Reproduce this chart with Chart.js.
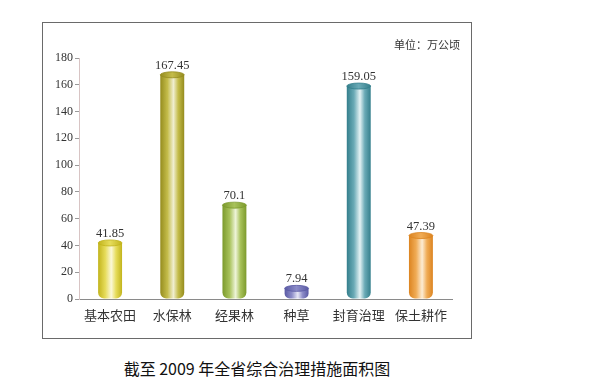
<!DOCTYPE html>
<html>
<head>
<meta charset="utf-8">
<script src="https://cdn.jsdelivr.net/npm/chart.js@4"></script>
<style>
  html, body { margin: 0; padding: 0; background: #fff; }
  body { width: 610px; height: 388px; position: relative; overflow: hidden; }
  #frame {
    position: absolute; left: 42px; top: 22px; width: 428px; height: 315px;
    border: 1px solid #6a6a6a; background: #fff;
  }
  #title {
    position: absolute; left: 42px; width: 430px; top: 356px; text-align: center;
    font-family: "Noto Sans CJK SC", sans-serif; font-size: 16px; color: #111;
  }
</style>
</head>
<body>
<div id="frame"><canvas id="chartMeasures" width="428" height="315"></canvas></div>
<div id="title">截至 2009 年全省综合治理措施面积图</div>
<script>
const categories = ['基本农田', '水保林', '经果林', '种草', '封育治理', '保土耕作'];
const areaValues = [41.85, 167.45, 70.1, 7.94, 159.05, 47.39];
const valueLabels = ['41.85', '167.45', '70.1', '7.94', '159.05', '47.39'];
const yTicks = [0, 20, 40, 60, 80, 100, 120, 140, 160, 180];
const unitText = '单位：万公顷';

// edge / middle / highlight colours per bar
const barColors = [
  ['#c2b41c', '#e6dc5a', '#fbf8d8'],
  ['#958c1e', '#c4bc4a', '#f0eed0'],
  ['#7c9a2c', '#a8c25a', '#eef4d8'],
  ['#5a5aa4', '#8c8cc8', '#e6e6f6'],
  ['#347f8c', '#6aaab6', '#e4f2f4'],
  ['#dc8420', '#f0ac56', '#fcecd4']
];
const barPct = 0.385;

function cylinderFill(context) {
  const chart = context.chart;
  const xScale = chart.scales.x;
  const i = context.dataIndex;
  const c = barColors[i] || barColors[0];
  if (!xScale || !xScale.width) return c[1];
  const cx = xScale.getPixelForValue(i);
  const half = xScale.width / categories.length * barPct / 2;
  const g = chart.ctx.createLinearGradient(cx - half, 0, cx + half, 0);
  g.addColorStop(0, c[0]);
  g.addColorStop(0.3, c[1]);
  g.addColorStop(0.55, c[2]);
  g.addColorStop(0.75, c[1]);
  g.addColorStop(1, c[0]);
  return g;
}

const cylinderCaps = {
  id: 'cylinderCaps',
  afterDatasetsDraw(chart) {
    const ctx = chart.ctx;
    const meta = chart.getDatasetMeta(0);
    ctx.save();
    meta.data.forEach((bar, i) => {
      const c = barColors[i];
      const rx = bar.width / 2;
      const ry = 3;
      const g = ctx.createLinearGradient(bar.x - rx, 0, bar.x + rx, 0);
      g.addColorStop(0, c[0]);
      g.addColorStop(0.5, c[1]);
      g.addColorStop(1, c[0]);
      ctx.beginPath();
      ctx.ellipse(bar.x, bar.y, rx, ry, 0, 0, Math.PI * 2);
      ctx.fillStyle = g;
      ctx.fill();
      ctx.strokeStyle = c[0];
      ctx.lineWidth = 0.8;
      ctx.stroke();

      ctx.fillStyle = '#333';
      ctx.font = '12.5px "Liberation Serif", "DejaVu Serif", serif';
      ctx.textAlign = 'center';
      ctx.textBaseline = 'alphabetic';
      ctx.fillText(valueLabels[i], bar.x, bar.y - 6);
    });
    ctx.font = '11px "Noto Sans CJK SC", sans-serif';
    ctx.fillStyle = '#333';
    ctx.textAlign = 'right';
    ctx.textBaseline = 'middle';
    ctx.fillText(unitText, chart.width - 11, 22);
    ctx.restore();
  }
};

new Chart(document.getElementById('chartMeasures'), {
  type: 'bar',
  data: {
    labels: categories,
    datasets: [
      {
        label: '面积',
        data: areaValues,
        backgroundColor: cylinderFill,
        borderWidth: 0,
        borderRadius: { topLeft: 0, topRight: 0, bottomLeft: 6, bottomRight: 6 },
        borderSkipped: false,
        barPercentage: barPct,
        categoryPercentage: 1
      }
    ]
  },
  options: {
    responsive: false,
    animation: false,
    events: [],
    layout: {
      padding: { left: 0, right: 19, top: 35, bottom: 0 }
    },
    plugins: {
      legend: { display: false },
      tooltip: { enabled: false }
    },
    scales: {
      x: {
        afterFit(scale) {
          scale.height = 39;
        },
        grid: { display: false },
        border: { display: true, color: '#8a8a8a', width: 1 },
        ticks: {
          color: '#333',
          padding: 0,
          font: { family: '"Noto Sans CJK SC", sans-serif', size: 13, lineHeight: 1.2 }
        }
      },
      y: {
        min: 0,
        max: 180,
        afterBuildTicks(scale) {
          scale.ticks = yTicks.map(v => ({ value: v }));
        },
        afterFit(scale) {
          scale.width = 36;
        },
        grid: {
          display: true,
          drawOnChartArea: false,
          drawTicks: true,
          tickLength: 4,
          color: '#9a9a9a'
        },
        border: { display: true, color: '#d8c4c4', width: 1, dash: [1, 1] },
        ticks: {
          color: '#333',
          padding: 2,
          font: { family: '"Liberation Serif", "DejaVu Serif", serif', size: 12 }
        }
      }
    }
  },
  plugins: [cylinderCaps]
});
</script>
</body>
</html>
